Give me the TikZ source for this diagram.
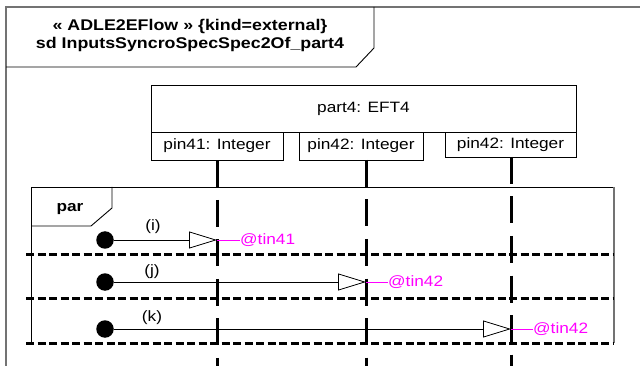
\documentclass[tikz,border=0pt]{standalone}
\usepackage{fontspec}
\setmainfont{Liberation Sans}[FakeStretch=1.15]
\usetikzlibrary{arrows.meta}
\definecolor{mymag}{RGB}{255,0,255}
\begin{document}
\begin{tikzpicture}[x=1pt,y=-1pt,
  framegray/.style={draw=black!55, line width=1.6pt},
  thinline/.style={draw=black, line width=0.9pt},
  lifeline/.style={line width=3pt, dash pattern=on 27pt off 12.5pt},
  sepline/.style={line width=3pt, dash pattern=on 8pt off 3.5pt},
  msg/.style={line width=0.8pt, -{Triangle[open,length=28pt,width=17pt]}},
  magline/.style={draw=mymag, line width=0.8pt},
  txt/.style={font=\fontsize{15}{17}\selectfont, inner sep=0pt},
  magtxt/.style={txt, text=mymag, anchor=west},
  titletxt/.style={font=\bfseries\fontsize{15.5}{17}\selectfont, inner sep=0pt, anchor=base},
  boxnode/.style={draw, line width=0.9pt, inner sep=0pt, txt},
  dot/.style={circle, fill=black, inner sep=0pt, minimum size=17.5pt}
]
\useasboundingbox (0,0) rectangle (640,366);

% outer frame
\draw[framegray] (6,366) -- (6,7) -- (640,7);
\draw[thinline] (374,7) -- (374,48) -- (356,67) -- (6,67);
\node[titletxt] (t1) at (190,31) {« ADLE2EFlow » \{kind=external\}};
\node[titletxt] (t2) at (190,48.5) {sd InputsSyncroSpecSpec2Of\_part4};

% lifeline head
\node[boxnode, minimum width=425pt, minimum height=47pt] (part) at (363.5,108.5) {part4: EFT4};
\node[boxnode, minimum width=132pt, minimum height=28pt] (pin1) at (217,146) {pin41: Integer};
\node[boxnode, minimum width=124pt, minimum height=28pt] (pin2) at (361,146) {pin42: Integer};
\node[boxnode, minimum width=131pt, minimum height=25pt] (pin3) at (510.5,144.5) {pin42: Integer};

% par fragment
\draw[thinline] (614,187) -- (31,187) -- (31,343);
\draw[framegray] (614,187) -- (614,343);
\draw[thinline] (112,187) -- (112,208) -- (91,226) -- (31,226);
\node[txt, font=\bfseries\fontsize{15}{17}\selectfont, anchor=base] (par) at (70,212) {par};
\draw[sepline] (26,255) -- (614,255);
\draw[sepline] (26,298) -- (614,298);
\draw[sepline] (26,343) -- (614,343);

% lifelines
\coordinate (l1b) at (217,366);
\coordinate (l2b) at (366,366);
\coordinate (l3b) at (511,366);
\draw[lifeline] (pin1.south) -- (l1b);
\draw[lifeline] (366,160) -- (l2b);
\draw[lifeline] (511,157) -- (l3b);

% messages
\node[dot] (d1) at (105,240) {};
\node[dot] (d2) at (105,282) {};
\node[dot] (d3) at (105,329) {};
\coordinate (e1) at (217,240);
\coordinate (e2) at (366,282);
\coordinate (e3) at (511,329);
\draw[msg] (d1) -- (e1);
\draw[msg] (d2) -- (e2);
\draw[msg] (d3) -- (e3);
\node[txt] (li) at (153,227) {(i)};
\node[txt] (lj) at (152,272) {(j)};
\node[txt] (lk) at (152,318) {(k)};
\node[magtxt] (m1) at (240,240) {@tin41};
\node[magtxt] (m2) at (388,282) {@tin42};
\node[magtxt] (m3) at (533,329) {@tin42};
\draw[magline] (e1) -- (m1.west);
\draw[magline] (e2) -- (m2.west);
\draw[magline] (e3) -- (m3.west);
\end{tikzpicture}
\end{document}
